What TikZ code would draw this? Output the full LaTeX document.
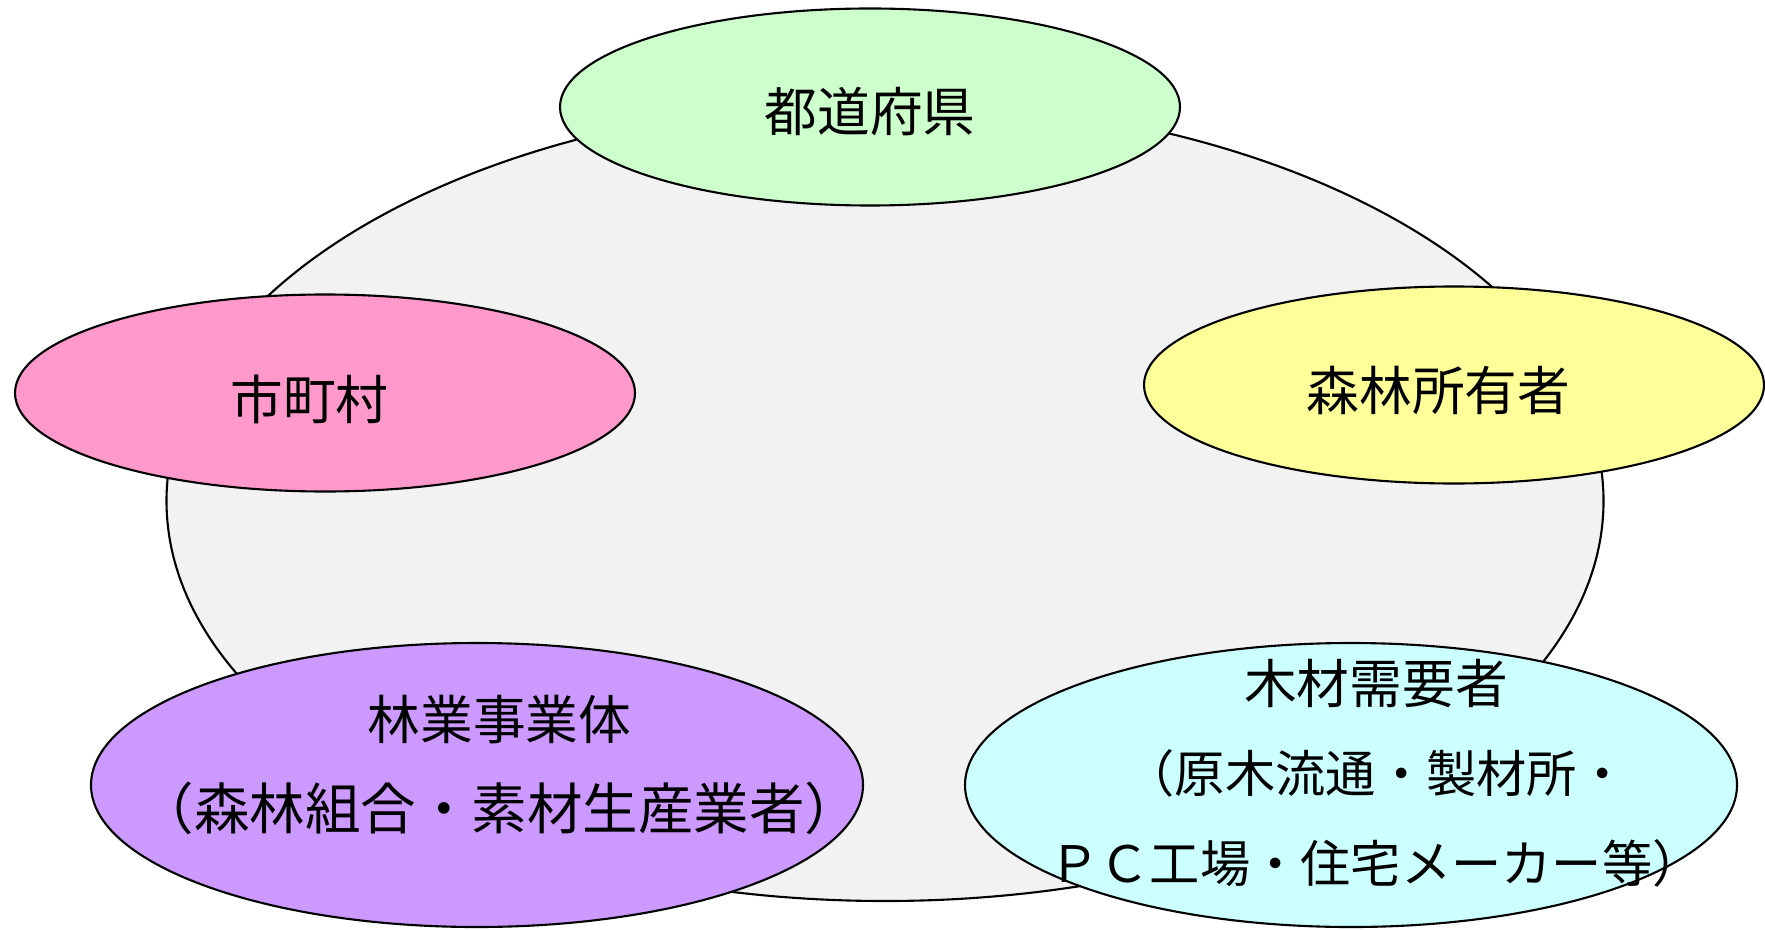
\documentclass[tikz,border=0pt]{standalone}
\usepackage{fontspec}
\setmainfont{Noto Sans CJK JP}
\usetikzlibrary{shapes.geometric}

\definecolor{fieldgray}{HTML}{F2F2F2}
\definecolor{prefgreen}{HTML}{CCFFCC}
\definecolor{townpink}{HTML}{FF99CC}
\definecolor{owneryellow}{HTML}{FFFF99}
\definecolor{firmpurple}{HTML}{CC99FF}
\definecolor{demandcyan}{HTML}{CCFFFF}

\begin{document}
\begin{tikzpicture}[
  every node/.style={text=black, font=\fontsize{15}{25.5}\selectfont}, % Same text size everywhere
  area/.style={ellipse, draw=black, line width=0.6pt, inner sep=0pt}, % Plain ellipse outline
  small area/.style={area, minimum width=6.2cm, minimum height=1.97cm}, % Upper three
  big area/.style={area, minimum width=7.72cm, minimum height=2.84cm}, % Lower two
  caption/.style={align=center, inner sep=0pt} % Text over an ellipse
]
\useasboundingbox (0,0) rectangle (17.65,9.29);

% Background ellipse
\node[area, fill=fieldgray, minimum width=14.37cm, minimum height=8cm] (field) at (8.85,4.28) {};

% Upper ellipses
\node[small area, fill=prefgreen] (pref) at (8.70,8.22) {};
\node[small area, fill=townpink] (town) at (3.25,5.36) {};
\node[small area, fill=owneryellow] (owner) at (14.54,5.44) {};

% Lower ellipses
\node[big area, fill=firmpurple] (firm) at (4.77,1.44) {};
\node[big area, fill=demandcyan] (demand) at (13.51,1.44) {};

% Texts
\node[caption] (preftext) at ([yshift=-0.045cm]pref.center) {都道府県};
\node[caption] (towntext) at ([xshift=-0.154cm,yshift=-0.062cm]town.center) {市町村};
\node[caption] (ownertext) at ([xshift=-0.154cm,yshift=-0.051cm]owner.center) {森林所有者};
\node[caption] (firmtext) at ([xshift=0.225cm,yshift=0.2cm]firm.center) {%
  林業事業体\\
  {\fontsize{15.8}{25.5}\selectfont （森林組合・素材生産業者）}};
\node[caption] (demandtext) at ([xshift=0.25cm,yshift=0.12cm]demand.center) {%
  木材需要者\\
  {\fontsize{14.3}{25.5}\selectfont （原木流通・製材所・}\\
  {\fontsize{14.3}{25.5}\selectfont ＰＣ工場・住宅メーカー等）}};

\end{tikzpicture}
\end{document}
